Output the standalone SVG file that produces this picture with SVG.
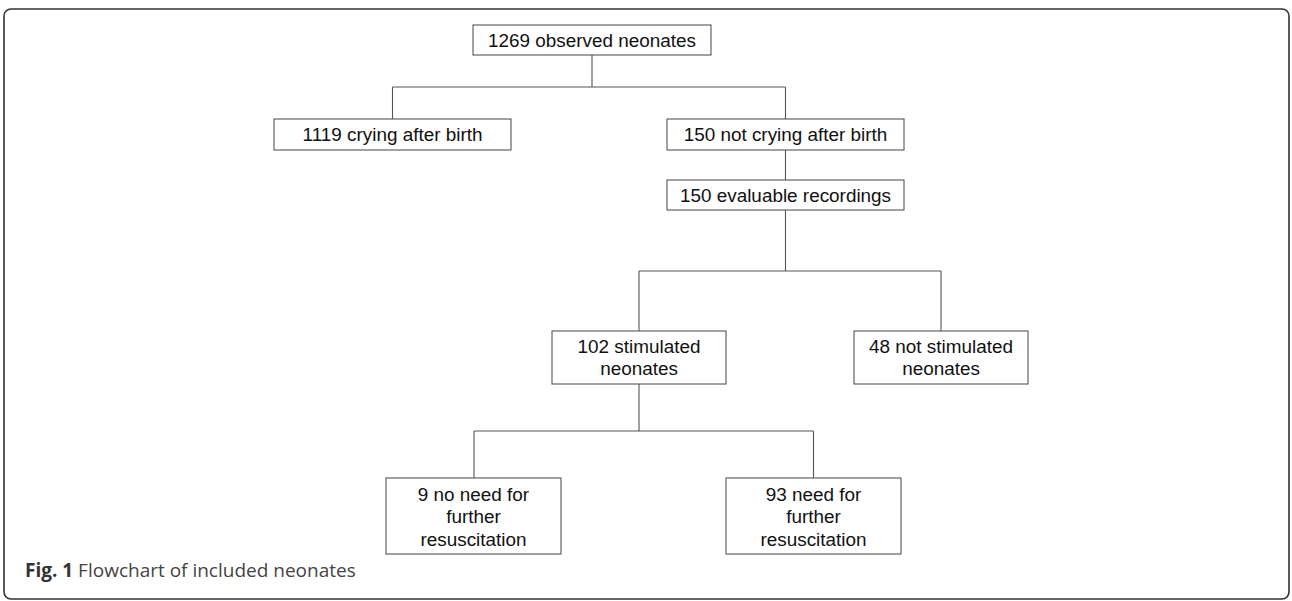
<svg xmlns="http://www.w3.org/2000/svg" width="1292" height="601" viewBox="0 0 1292 601">
<style>
.frame{fill:#fff;stroke:#333;stroke-width:1.6}
.box{fill:#fff;stroke:#555;stroke-width:1.1}
.t{font-family:"Liberation Sans",Arial,sans-serif;font-size:18.9px;fill:#111;text-anchor:middle}
.c{stroke:#555;stroke-width:1.1;fill:none}
.cap{font-family:"Open Sans","Noto Sans",sans-serif;font-size:19px;fill:#444}
</style>
<rect class="frame" x="4" y="9" width="1285" height="590" rx="7"/>
<g id="connectors">
<path class="c" d="M592 55V87M392.5 87H785.5M392.5 87V119M785.5 87V119"/>
<path class="c" d="M785.5 150V180M785.5 210V271M639 271H941M639 271V331M941 271V331"/>
<path class="c" d="M639 384V431M474 431H813.5M474 431V478M813.5 431V478"/>
</g>
<g id="n1"><rect class="box" x="473" y="25" width="238" height="30"/><text class="t" x="592" y="46.7">1269 observed neonates</text></g>
<g id="n2"><rect class="box" x="274" y="119" width="237" height="31"/><text class="t" x="392.5" y="141.2">1119 crying after birth</text></g>
<g id="n3"><rect class="box" x="667" y="119" width="237" height="31"/><text class="t" x="785.5" y="141.2">150 not crying after birth</text></g>
<g id="n4"><rect class="box" x="667" y="180" width="237" height="30"/><text class="t" x="785.5" y="201.7">150 evaluable recordings</text></g>
<g id="n5"><rect class="box" x="552" y="331" width="174" height="53"/><text class="t" x="639" y="352.5">102 stimulated</text><text class="t" x="639" y="375">neonates</text></g>
<g id="n6"><rect class="box" x="854" y="331" width="174" height="53"/><text class="t" x="941" y="352.5">48 not stimulated</text><text class="t" x="941" y="375">neonates</text></g>
<g id="n7"><rect class="box" x="386" y="478" width="175" height="76"/><text class="t" x="473.5" y="500.5">9 no need for</text><text class="t" x="473.5" y="523">further</text><text class="t" x="473.5" y="545.5">resuscitation</text></g>
<g id="n8"><rect class="box" x="726" y="478" width="175" height="76"/><text class="t" x="813.5" y="500.5">93 need for</text><text class="t" x="813.5" y="523">further</text><text class="t" x="813.5" y="545.5">resuscitation</text></g>
<text class="cap" x="25" y="577"><tspan font-weight="bold" fill="#333">Fig. 1</tspan> Flowchart of included neonates</text>
</svg>
